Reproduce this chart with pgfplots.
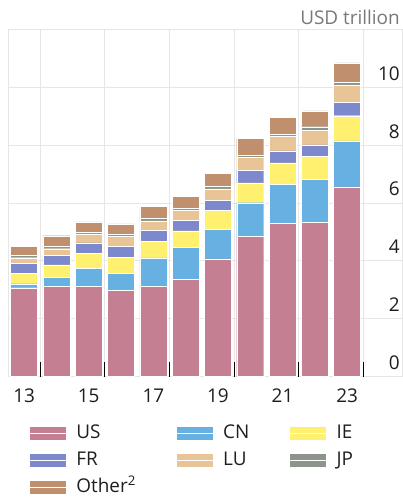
\documentclass[border=0pt]{standalone}
\usepackage{fontspec}
\setmainfont{Open Sans}
\usepackage{pgfplots}
\pgfplotsset{compat=1.18}
\definecolor{cUS}{RGB}{196,128,146}
\definecolor{cCN}{RGB}{102,176,226}
\definecolor{cIE}{RGB}{255,240,112}
\definecolor{cFR}{RGB}{126,136,204}
\definecolor{cLU}{RGB}{232,196,150}
\definecolor{cJP}{RGB}{140,148,140}
\definecolor{cOT}{RGB}{192,144,110}
\definecolor{gridc}{RGB}{230,230,230}
\definecolor{txt}{RGB}{30,30,30}
\begin{document}
\begin{tikzpicture}
\path[use as bounding box] (0,0) rectangle (403bp,498bp);
\begin{axis}[
  at={(8bp,121.5bp)}, anchor=south west,
  width=394bp, height=347bp, scale only axis,
  xmin=12.5, xmax=24.7, ymin=0, ymax=12,
  ybar stacked, bar width=0.836,
  clip mode=individual,
  axis line style={gridc, line width=0.8bp},
  /pgf/number format/assume math mode=true,
  xtick={13,15,17,19,21,23}, xticklabels={13,15,17,19,21,23},
  ytick={0,2,4,6,8,10}, yticklabels={0,2,4,6,8,10},
  major tick length=0pt,
  ymajorgrids, major grid style={gridc, line width=0.8bp},
  extra x ticks={13.5,15.5,17.5,19.5,21.5,23.5},
  extra x tick labels={},
  extra x tick style={grid=major, major tick length=14bp, tick style={black, line width=0.9bp}},
  xtick pos=left,
  yticklabel pos=right,
  y tick label style={anchor=base east, inner xsep=0pt, xshift=-2bp, yshift=7bp, font=\fontsize{19}{22}\selectfont, text=txt},
  x tick label style={anchor=base, yshift=-25.5bp, font=\fontsize{19}{22}\selectfont, text=txt},
  legend columns=3,
  legend cell align=left,
  legend style={draw=none, fill=none, at={(axis description cs:0.053,-0.134)}, anchor=north west,
    inner sep=0pt, row sep=7bp, font=\fontsize{19}{22}\selectfont, text=txt,
    nodes={inner sep=1bp, text height=14bp, text depth=4bp},
    /tikz/every even column/.append style={column sep=39bp}},
  legend image code/.code={\fill[#1] (0bp,-6.5bp) rectangle (37bp,7bp); \path (0bp,0bp) -- (46bp,0bp);},
]
\addplot[fill=cUS, draw=white, line width=0.3bp] coordinates {(13,3.07) (14,3.11) (15,3.12) (16,2.98) (17,3.13) (18,3.37) (19,4.07) (20,4.85) (21,5.29) (22,5.33) (23,6.56)};
\addplot[fill=cCN, draw=white, line width=0.3bp] coordinates {(13,0.14) (14,0.31) (15,0.62) (16,0.58) (17,0.97) (18,1.09) (19,1.01) (20,1.16) (21,1.35) (22,1.49) (23,1.59)};
\addplot[fill=cIE, draw=white, line width=0.3bp] coordinates {(13,0.35) (14,0.44) (15,0.53) (16,0.56) (17,0.58) (18,0.58) (19,0.66) (20,0.69) (21,0.75) (22,0.79) (23,0.87)};
\addplot[fill=cFR, draw=white, line width=0.3bp] coordinates {(13,0.35) (14,0.32) (15,0.35) (16,0.38) (17,0.37) (18,0.35) (19,0.35) (20,0.44) (21,0.41) (22,0.40) (23,0.47)};
\addplot[fill=cLU, draw=white, line width=0.3bp] coordinates {(13,0.20) (14,0.24) (15,0.31) (16,0.34) (17,0.33) (18,0.35) (19,0.40) (20,0.45) (21,0.50) (22,0.51) (23,0.57)};
\addplot[fill=cJP, draw=white, line width=0.3bp] coordinates {(13,0.10) (14,0.08) (15,0.06) (16,0.07) (17,0.08) (18,0.07) (19,0.09) (20,0.06) (21,0.08) (22,0.12) (23,0.12)};
\addplot[fill=cOT, draw=white, line width=0.3bp] coordinates {(13,0.30) (14,0.37) (15,0.36) (16,0.37) (17,0.42) (18,0.43) (19,0.45) (20,0.58) (21,0.58) (22,0.55) (23,0.67)};
\legend{US,CN,IE,FR,LU,JP,Other\textsuperscript{2}}
\node[anchor=base east, font=\fontsize{19}{22}\selectfont, text={rgb,255:red,120;green,120;blue,120}, inner sep=0pt] at (axis description cs:1,1) [xshift=-2bp, yshift=5bp] {USD trillion};
\end{axis}
\end{tikzpicture}
\end{document}
